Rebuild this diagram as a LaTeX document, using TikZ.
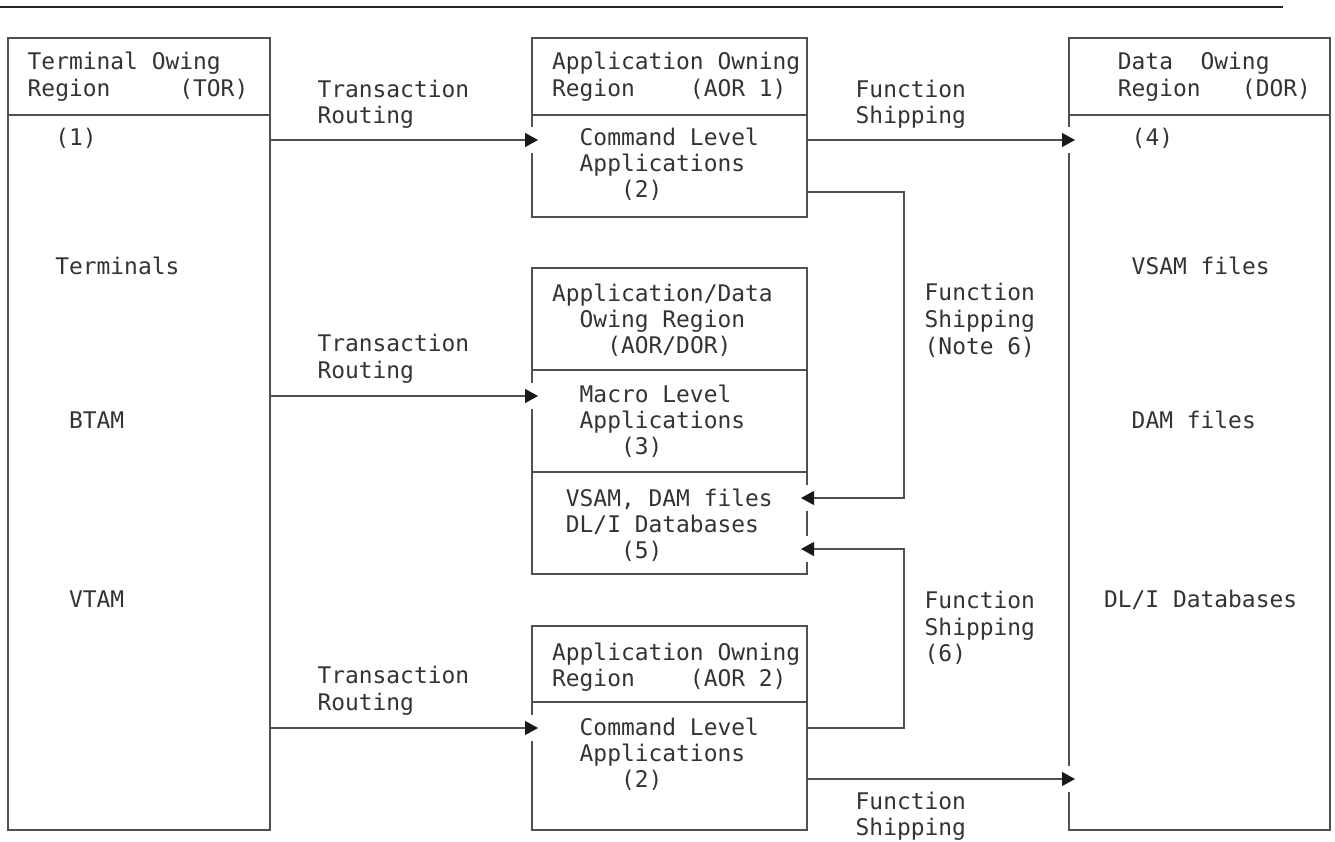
\documentclass[tikz,border=0pt]{standalone}
\usepackage{fontspec}
\newfontfamily\monofam{DejaVu Sans Mono}
\usetikzlibrary{arrows.meta,calc}
\definecolor{ln}{HTML}{505050}
\definecolor{tx}{HTML}{333333}
\newcommand\mfont{\monofam\fontsize{22.9pt}{27pt}\selectfont}
\newcommand\gapat[2]{\fill[white] ($(#1 |- 0,#2)+(-2.6,-13)$) rectangle ($(#1 |- 0,#2)+(2.6,13)$);}
\tikzset{
  regbox/.style={draw=ln, line width=1.3pt, rectangle, inner sep=0pt, outer sep=0pt, anchor=north west},
  divl/.style={draw=ln, line width=1.3pt},
  lbl/.style={inner sep=0pt, anchor=base west, font=\mfont, text=tx},
  conn/.style={draw=ln, line width=1.3pt, line join=miter, -{Triangle[length=13pt,width=14pt,color=black!90]}},
}
\begin{document}
\begin{tikzpicture}[x=1pt,y=-1pt]
\useasboundingbox (0,0) rectangle (1335,842);
% top rule
\coordinate (hl0) at (0,7);
\coordinate (hl1) at (1283,7);
\draw[line width=1.8pt, color=black!85] (hl0) -- (hl1);

% boxes
\node[regbox, minimum width=262pt, minimum height=792pt] (tor) at (8,38) {};
\node[regbox, minimum width=275pt, minimum height=179pt] (aor1) at (532,38) {};
\node[regbox, minimum width=275pt, minimum height=306pt] (ad) at (532,268) {};
\node[regbox, minimum width=275pt, minimum height=204pt] (aor2) at (532,626) {};
\node[regbox, minimum width=261pt, minimum height=792pt] (dor) at (1069,38) {};

% dividers
\draw[divl] (tor.west |- 0,115) -- (tor.east |- 0,115);
\draw[divl] (aor1.west |- 0,115) -- (aor1.east |- 0,115);
\draw[divl] (dor.west |- 0,115) -- (dor.east |- 0,115);
\draw[divl] (ad.west |- 0,370) -- (ad.east |- 0,370);
\draw[divl] (ad.west |- 0,472) -- (ad.east |- 0,472);
\draw[divl] (aor2.west |- 0,702) -- (aor2.east |- 0,702);

% gaps in borders where arrows enter
\gapat{aor1.west}{140}
\gapat{ad.west}{396}
\gapat{aor2.west}{728}
\gapat{dor.west}{140}
\gapat{dor.west}{779}
\gapat{ad.east}{498}
\gapat{ad.east}{549}

% bend points
\coordinate (bendA) at (904,192);
\coordinate (bendB) at (904,498);
\coordinate (bendC) at (904,728);
\coordinate (bendD) at (904,549);

% connectors
\draw[conn] (tor.east |- 0,140) -- ($(aor1.west |- 0,140)+(6,0)$);
\draw[conn] (tor.east |- 0,396) -- ($(ad.west |- 0,396)+(6,0)$);
\draw[conn] (tor.east |- 0,728) -- ($(aor2.west |- 0,728)+(6,0)$);
\draw[conn] (aor1.east |- 0,140) -- ($(dor.west |- 0,140)+(6,0)$);
\draw[conn] (aor2.east |- 0,779) -- ($(dor.west |- 0,779)+(6,0)$);
\draw[conn] (aor1.east |- bendA) -- (bendA) -- (bendB) -- ($(ad.east |- bendB)+(-6,0)$);
\draw[conn] (aor2.east |- bendC) -- (bendC) -- (bendD) -- ($(ad.east |- bendD)+(-6,0)$);

% TOR texts
\node[lbl] (t1) at ({27.5+13.8*0},70) {Terminal Owing};
\node[lbl] (t2) at ({27.5+13.8*0},97) {Region~~~~~(TOR)};
\node[lbl] (t3) at ({27.5+13.8*2},146) {(1)};
\node[lbl] (t4) at ({27.5+13.8*2},275) {Terminals};
\node[lbl] (t5) at ({27.5+13.8*3},428) {BTAM};
\node[lbl] (t6) at ({27.5+13.8*3},607) {VTAM};

% Transaction routing labels
\node[lbl] (r1) at ({27.5+13.8*21},98) {Transaction};
\node[lbl] (r2) at ({27.5+13.8*21},124) {Routing};
\node[lbl] (r3) at ({27.5+13.8*21},351) {Transaction};
\node[lbl] (r4) at ({27.5+13.8*21},378) {Routing};
\node[lbl] (r5) at ({27.5+13.8*21},683) {Transaction};
\node[lbl] (r6) at ({27.5+13.8*21},710) {Routing};

% AOR 1
\node[lbl] (a1) at ({27.5+13.8*38},70) {Application Owning};
\node[lbl] (a2) at ({27.5+13.8*38},97) {Region~~~~(AOR 1)};
\node[lbl] (a3) at ({27.5+13.8*40},146) {Command Level};
\node[lbl] (a4) at ({27.5+13.8*40},172) {Applications};
\node[lbl] (a5) at ({27.5+13.8*43},198) {(2)};

% AOR/DOR
\node[lbl] (d1) at ({27.5+13.8*38},301) {Application/Data};
\node[lbl] (d2) at ({27.5+13.8*40},327) {Owing Region};
\node[lbl] (d3) at ({27.5+13.8*42},353) {(AOR/DOR)};
\node[lbl] (d4) at ({27.5+13.8*40},402) {Macro Level};
\node[lbl] (d5) at ({27.5+13.8*40},428) {Applications};
\node[lbl] (d6) at ({27.5+13.8*43},454) {(3)};
\node[lbl] (d7) at ({27.5+13.8*39},506) {VSAM, DAM files};
\node[lbl] (d8) at ({27.5+13.8*39},532) {DL/I Databases};
\node[lbl] (d9) at ({27.5+13.8*43},558) {(5)};

% AOR 2
\node[lbl] (b1) at ({27.5+13.8*38},660) {Application Owning};
\node[lbl] (b2) at ({27.5+13.8*38},686) {Region~~~~(AOR 2)};
\node[lbl] (b3) at ({27.5+13.8*40},735) {Command Level};
\node[lbl] (b4) at ({27.5+13.8*40},761) {Applications};
\node[lbl] (b5) at ({27.5+13.8*43},787) {(2)};

% Function shipping labels
\node[lbl] (f1) at ({27.5+13.8*60},98) {Function};
\node[lbl] (f2) at ({27.5+13.8*60},124) {Shipping};
\node[lbl] (f3) at ({27.5+13.8*65},300) {Function};
\node[lbl] (f4) at ({27.5+13.8*65},327) {Shipping};
\node[lbl] (f5) at ({27.5+13.8*65},354) {(Note 6)};
\node[lbl] (f6) at ({27.5+13.8*65},608) {Function};
\node[lbl] (f7) at ({27.5+13.8*65},635) {Shipping};
\node[lbl] (f8) at ({27.5+13.8*65},661) {(6)};
\node[lbl] (f9) at ({27.5+13.8*60},809) {Function};
\node[lbl] (f10) at ({27.5+13.8*60},835) {Shipping};

% DOR texts
\node[lbl] (o1) at ({27.5+13.8*79},70) {Data~~Owing};
\node[lbl] (o2) at ({27.5+13.8*79},97) {Region~~~(DOR)};
\node[lbl] (o3) at ({27.5+13.8*80},146) {(4)};
\node[lbl] (o4) at ({27.5+13.8*80},275) {VSAM files};
\node[lbl] (o5) at ({27.5+13.8*80},428) {DAM files};
\node[lbl] (o6) at ({27.5+13.8*78},607) {DL/I Databases};
\end{tikzpicture}
\end{document}
